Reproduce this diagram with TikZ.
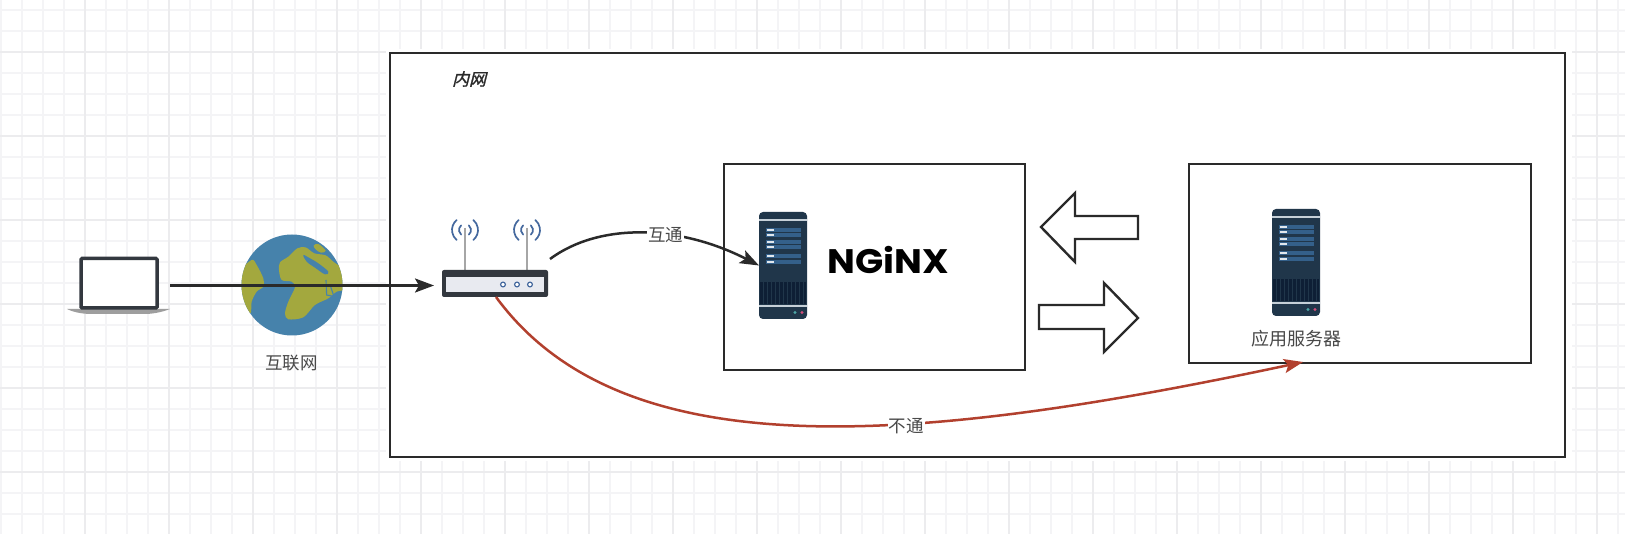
\documentclass[tikz,border=0pt]{standalone}
\usepackage{fontspec}
\usetikzlibrary{arrows.meta}
\setmainfont{Noto Sans CJK SC}
\newfontfamily\cjkit[FakeSlant=0.25,FakeBold=1.2]{Noto Sans CJK SC}
\newfontfamily\ngxfont[FakeStretch=1.09]{Poppins}
\definecolor{minorgrid}{HTML}{F4F4F6}
\definecolor{majorgrid}{HTML}{ECECEE}
\definecolor{ink}{HTML}{2A2A2A}
\definecolor{labelgrey}{HTML}{484848}
\definecolor{redline}{HTML}{B2402E}
\definecolor{ocean}{HTML}{4682AB}
\definecolor{land}{HTML}{A3A83E}
\definecolor{srvbody}{HTML}{20364A}
\definecolor{srvrow}{HTML}{34608A}
\definecolor{srvgrill}{HTML}{0E1F35}
\definecolor{srvline}{HTML}{C6D0D8}
\definecolor{rtbody}{HTML}{33383F}
\definecolor{rtpanel}{HTML}{E8EAF0}
\definecolor{wave}{HTML}{44689E}
\tikzset{
  box/.style={draw=ink,line width=2.4pt,fill=white,inner sep=0pt},
  hollowarrow/.style={draw=ink,line width=2.4pt,fill=white,line join=miter},
  anchorbox/.style={inner sep=0pt,outer sep=0pt},
  txt/.style={text=labelgrey,font=\fontsize{17.5}{19}\selectfont,inner sep=1pt},
  conn/.style={draw=ink,line width=2.5pt,-{Stealth[length=19pt,width=14pt,inset=4pt]}},
  redconn/.style={draw=redline,line width=2.5pt,-{Stealth[length=19pt,width=14pt,inset=4pt]}},
  serverpic/.pic={
    \fill[srvbody,rounded corners=4pt] (0,0) rectangle (48,107);
    \fill[srvline] (0,7.3) rectangle (48,9.3);
    \foreach \ya in {16,21,28,33,42.3,47.7}{
      \fill[srvrow] (7,\ya) rectangle (41.5,\ya+4);
      \fill[white!85!srvrow] (7.5,\ya+1.1) rectangle (14.5,\ya+2.9);
    }
    \fill[srvgrill] (1,70.5) rectangle (47,92);
    \foreach \xa in {4,8,...,44}{\draw[srvbody,line width=.6pt] (\xa,70.5) -- (\xa,92);}
    \fill[srvline] (0,93.2) rectangle (48,95.2);
    \fill[teal!70!white] (36,100.5) circle[radius=1.7pt];
    \fill[purple!70!white] (43,100.5) circle[radius=1.7pt];
  }
}
\begin{document}
\begin{tikzpicture}[x=1pt,y=-1pt]
\useasboundingbox (0,0) rectangle (1625,534);
\fill[white] (0,0) rectangle (1625,534);
% grid
\foreach \k in {0,...,77}{\draw[minorgrid,line width=1.7pt] ({1+21*\k},0) -- ({1+21*\k},534);}
\foreach \k in {0,...,25}{\draw[minorgrid,line width=1.7pt] (0,{10+21*\k}) -- (1625,{10+21*\k});}
\foreach \k in {0,...,18}{\draw[majorgrid,line width=1.8pt] ({85+84*\k},0) -- ({85+84*\k},534);}
\foreach \k in {0,...,5}{\draw[majorgrid,line width=1.8pt] (0,{52+84*\k}) -- (1625,{52+84*\k});}
\fill[white] (386,49) rectangle (1572,461);
% boxes
\node[box,minimum width=1175pt,minimum height=404pt] (inner) at (977.5,255) {};
\node[box,minimum width=301pt,minimum height=206pt] (nginxbox) at (874.5,267) {};
\node[box,minimum width=342pt,minimum height=199pt] (appbox) at (1360,263.5) {};
% hollow arrows
\draw[hollowarrow] (1041,227) -- (1075,193) -- (1075,216) -- (1138,216) -- (1138,239) -- (1075,239) -- (1075,262) -- cycle;
\draw[hollowarrow] (1138,318) -- (1104,283) -- (1104,305) -- (1039,305) -- (1039,329) -- (1104,329) -- (1104,352) -- cycle;
% laptop
\node[anchorbox,minimum width=103pt,minimum height=57pt] (laptop) at (118.5,285.5) {};
\fill[black!38] (67,309) -- (170,309) .. controls (160,313) and (150,314) .. (145,314) -- (92,314) .. controls (85,314) and (75,313) .. (67,309) -- cycle;
\draw[rtbody,line width=3.5pt,fill=white,rounded corners=1pt] (81,258.5) rectangle (157,308);
% globe
\node[anchorbox,circle,fill=ocean,minimum size=101pt] (globe) at (292,285) {};
\begin{scope}
\clip (292,285) circle[radius=50.5pt];
\begin{scope}[shift={(235,230)},x=0.3333pt,y=-0.3333pt]
\fill[land] plot[smooth cycle,tension=.5] coordinates {(132,120) (135,97) (160,80) (187,55) (212,52) (238,70) (272,76) (296,96) (340,130) (340,175) (305,185) (280,205) (240,225) (205,262) (160,268) (150,250) (160,215) (180,172) (170,155) (140,150)};
\fill[land] plot[smooth cycle,tension=.6] coordinates {(236,47) (250,42) (272,62) (258,68) (242,58)};
\fill[land] plot[smooth cycle,tension=.5] coordinates {(10,130) (50,90) (65,105) (85,145) (85,170) (65,185) (50,215) (45,250) (5,200)};
\fill[ocean] plot[smooth cycle,tension=.6] coordinates {(205,75) (225,85) (250,100) (280,125) (270,133) (240,113) (215,95)};
\draw[ocean,line width=1.1pt] (273,150) -- (275,195) -- (300,200) (287,170) -- (296,197);
\end{scope}
\end{scope}
% router
\node[anchorbox,minimum width=114pt,minimum height=31pt] (router) at (491,285.5) {};
\draw[black!35,line width=1.6pt] (465,228) -- (465,270) (527,228) -- (527,270);
\foreach \cx in {465,527}{
  \foreach \rr in {6,13}{
    \draw[wave,line width=1.7pt,line cap=round] ([shift={(-50:\rr pt)}]\cx,230) arc[start angle=-50,end angle=50,radius=\rr pt];
    \draw[wave,line width=1.7pt,line cap=round] ([shift={(130:\rr pt)}]\cx,230) arc[start angle=130,end angle=230,radius=\rr pt];
  }
}
\fill[rtbody,rounded corners=2pt] (442,270) rectangle (548,297);
\fill[rtpanel] (446,277) rectangle (544,292);
\foreach \cx in {503,517,530}{\draw[wave,line width=1.2pt,fill=white] (\cx,284.5) circle[radius=2.4pt];}
% servers
\node[anchorbox,minimum width=48pt,minimum height=107pt] (srvA) at (783,265.5) {};
\node[anchorbox,minimum width=48pt,minimum height=108pt] (srvB) at (1296,263) {};
\pic at (759,212) {serverpic};
\pic at (1272,209) {serverpic};
% logo and labels
\node[inner sep=0pt,text=black,font=\ngxfont\bfseries\fontsize{34}{34}\selectfont] (logo) at (888.5,260) {NGiNX};
\node[txt] (netlabel) at (291.5,363) {互联网};
\node[txt,font=\fontsize{18}{20}\selectfont] (applabel) at (1296,339) {应用服务器};
\node[inner sep=1pt,text=ink,font=\cjkit\fontsize{17}{19}\selectfont] (intranet) at (469,79) {内网};
% connectors
\coordinate (rtout) at (550,259);
\coordinate (rtred) at (496,297);
\coordinate (apptip) at (1303,362);
\draw[conn] (laptop.east) -- (router.west);
\draw[conn] (rtout) .. controls (600,222) and (680,225) .. node[pos=.6,fill=white,txt] (l1) {互通} (srvA.west);
\draw[redconn] (rtred) .. controls (620,466) and (900,448) .. node[pos=.628,fill=white,txt,yshift=-3pt] (l2) {不通} (apptip);
\end{tikzpicture}
\end{document}
